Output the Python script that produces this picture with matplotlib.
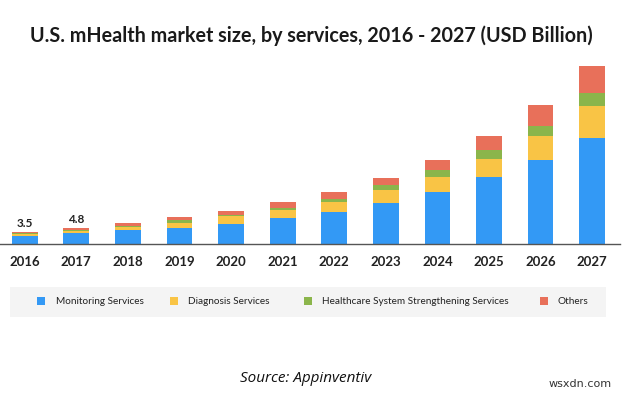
import numpy as np
import matplotlib
matplotlib.use("Agg")
from matplotlib import pyplot as plt
from matplotlib.patches import Rectangle

years = ["2016", "2017", "2018", "2019", "2020", "2021",
         "2022", "2023", "2024", "2025", "2026", "2027"]
monitoring = [2.5, 3.2, 4.3, 4.9, 6.1, 7.8, 9.6, 12.3, 15.6, 20.0, 25.0, 31.6]
diagnosis = [0.5, 0.8, 0.7, 1.4, 2.2, 2.4, 3.0, 3.8, 4.4, 5.4, 7.3, 9.6]
healthcare = [0.2, 0.3, 0.5, 0.8, 0.3, 0.5, 0.8, 1.4, 2.0, 2.8, 2.9, 3.9]
others = [0.3, 0.5, 0.8, 1.1, 1.4, 1.9, 2.1, 2.2, 3.2, 4.1, 6.2, 7.9]
labels = {0: "3.5", 1: "4.8"}

series = ["Monitoring Services", "Diagnosis Services",
          "Healthcare System Strengthening Services", "Others"]
colors = ["#3399f5", "#f9c445", "#8bb54b", "#e8705a"]

plt.rcParams['font.family'] = ['Lato', 'DejaVu Sans']

fig = plt.figure(figsize=(6.3, 3.94), dpi=100)
W, H = 630, 394
# axes: x 0..620 px, baseline at y=244, top at y=60
ax = fig.add_axes([0 / W, 1 - 244 / H, 620 / W, (244 - 60) / H])

x = np.arange(len(years))
bottom = np.zeros(len(years))
for vals, c in zip([monitoring, diagnosis, healthcare, others], colors):
    ax.bar(x, vals, 0.5, bottom=bottom, color=c, linewidth=0)
    bottom += np.array(vals)

for i, t in labels.items():
    ax.text(x[i], bottom[i] + 1.0, t, ha='center', va='bottom',
            fontsize=8.5, fontweight='bold', color='#222222')

ax.set_xlim(-0.48, 11.54)
ax.set_ylim(0, (244 - 60) / 3.35)
for s in ['top', 'right', 'left']:
    ax.spines[s].set_visible(False)
ax.spines['bottom'].set_color('#555555')
ax.spines['bottom'].set_linewidth(1.0)
ax.set_yticks([])
ax.set_xticks(x)
ax.set_xticklabels(years, fontsize=9.5, fontweight='bold', color='#222222')
ax.tick_params(axis='x', length=0, pad=9)

fig.text(311 / W, 1 - 36 / H,
         "U.S. mHealth market size, by services, 2016 - 2027 (USD Billion)",
         ha='center', va='center', fontsize=14.2, fontweight='bold',
         color='#1a1a1a')

# legend panel
fig.patches.append(Rectangle((10 / W, 1 - 317 / H), 596 / W, 30 / H,
                             transform=fig.transFigure, facecolor='#f4f4f4',
                             edgecolor='none', zorder=0))
mark_x = [41, 174, 308, 544]
text_x = [56, 188, 322, 558]
for mx, tx, c, name in zip(mark_x, text_x, colors, series):
    fig.patches.append(Rectangle(((mx - 4) / W, 1 - 305 / H), 8 / W, 8 / H,
                                 transform=fig.transFigure, facecolor=c,
                                 edgecolor='none', zorder=1))
    fig.text(tx / W, 1 - 301.5 / H, name, ha='left', va='center',
             fontsize=7.2, color='#222222')

fig.text(306 / W, 1 - 378 / H, "Source: Appinventiv", ha='center',
         va='center', fontsize=11, style='italic', color='#111111',
         family=['Open Sans', 'DejaVu Sans'])
fig.text(612 / W, 1 - 384 / H, "wsxdn.com", ha='right', va='center',
         fontsize=8, color='#333333', family=['DejaVu Sans'])

fig.savefig("out.png", dpi=100)
